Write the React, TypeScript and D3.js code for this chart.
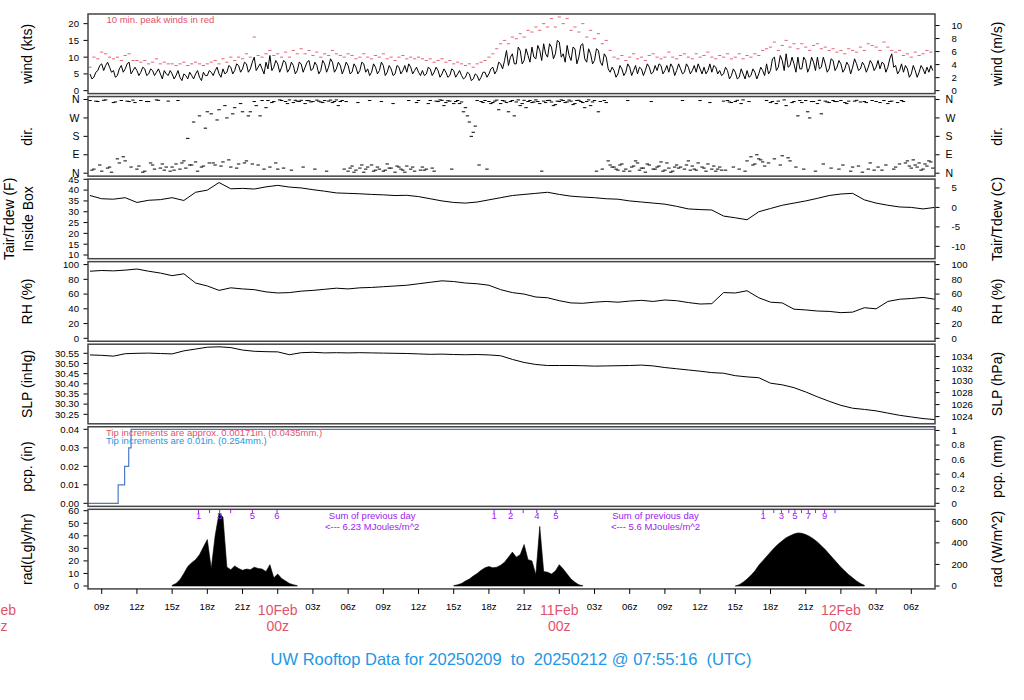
import * as d3 from "d3";

// Hours are counted from 2025-02-09 00Z
const FONT = "'Liberation Sans', Arial, Helvetica, sans-serif";
const RED = "#DF536B";
const BLUE = "#2297E6";
const PURPLE = "#A020F0";

// 20-minute samples starting at 08Z on 9 Feb
const sampleStartHour = 8;
const windKts = [
  5, 4, 6, 8, 7.5, 7, 6, 4.5, 7.5, 6.5, 8.5, 6,
  6, 5.5, 6.5, 5, 6, 5.5, 5, 6, 4.5,
  5, 4.5, 4, 5, 3.5, 4.5, 5, 4, 5.5, 4.5,
  5.5, 6, 5, 6.5, 5.5, 7, 6, 7.5, 6.5,
  8, 6.5, 10, 7, 6.5, 8.5, 10.5, 7, 8,
  7, 8.5, 6.5, 7.5, 6, 8, 7, 9, 6.5, 7.5, 6, 8, 7, 8.5, 6.5, 7.5,
  6.5, 7.5, 5.5, 7, 6, 8, 6.5, 5.5, 7, 6, 7.5, 5.5, 6.5, 5, 7, 6, 5.5, 7, 6, 5.5,
  6, 5, 6.5, 5.5, 6, 5, 5.5, 4.5, 6, 5, 4.5, 4, 5, 3.5, 4.5, 4,
  5.5, 5, 7, 6, 8,
  9, 7.5, 11, 8, 12, 9, 10.5, 13, 9.5, 12, 14, 10, 13, 11, 14.5,
  11, 13.5, 9, 12.5, 10, 14, 8.5, 11, 9, 12, 7.5, 10, 5.5,
  6, 5, 6.5, 5.5, 7, 6, 5, 6.5, 6, 7, 5.5, 6, 7.5, 6, 5.5, 7, 6, 6.5, 5.5, 7, 6, 5.5, 6.5, 7, 6, 5.5, 7, 6,
  5, 6, 4.5, 5.5, 4, 5, 6, 4.5, 5.5, 5, 6,
  8, 6, 10, 7, 9, 11, 7.5, 8, 10, 6.5, 9, 7, 8.5, 10, 7, 8, 6.5, 9,
  7, 8, 6.5, 7.5, 7, 8, 6.5, 7.5, 7, 8,
  7, 6.5, 8, 7, 11, 7.5, 6, 5.5, 6.5, 5, 6, 5.5, 6.5, 7, 7.5,
];
// the samples 10 minutes after each of the above
const windKtsMid = [
  3.5, 5.5, 7.5, 6, 8.5, 5.5, 4, 6.5, 5.5, 8, 5, 7,
  4.5, 7, 4.5, 6.5, 4.5, 6.5, 3.5, 5, 6,
  3.5, 6, 3, 4.5, 5.5, 3.5, 6, 3, 4.5, 6,
  4.5, 7, 4, 5, 7.5, 5, 8, 5.5, 8.5,
  5.5, 8.5, 6, 8, 5, 6.5, 6, 9, 5.5,
  9, 5.5, 8.5, 5, 8.5, 5.5, 8.5, 6, 8.5, 5, 9, 5.5, 9.5, 5.5, 8.5, 5,
  8.5, 5, 8, 5, 8.5, 5.5, 4.5, 8, 5, 8.5, 4.5, 7.5, 4.5, 7.5, 5, 7.5, 8, 5, 7, 4.5,
  4.5, 7, 4.5, 7, 4, 6.5, 4, 6.5, 4, 6, 3.5, 5.5, 3, 5, 3, 5.5,
  4, 6.5, 5, 8.5, 6.5,
  12, 10, 8, 13, 8, 12.5, 8.5, 10, 13.5, 9, 11, 14, 9.5, 15, 10,
  8.5, 10.5, 13, 8, 13.5, 9.5, 12.5, 8, 12.5, 8.5, 11, 6.5, 7,
  4, 7.5, 4.5, 8, 4.5, 7.5, 7, 4.5, 8, 5, 7.5, 8, 5, 7.5, 8, 4.5, 8, 5, 8, 5, 7.5, 8, 5, 5, 8, 7.5, 5, 4.5,
  7, 3.5, 6.5, 3.5, 6.5, 3.5, 4, 6.5, 3.5, 7, 4.5,
  5, 9.5, 6, 10.5, 6, 7, 10, 5.5, 6.5, 10, 5.5, 10, 6, 6.5, 10, 5.5, 9.5, 6,
  9, 5.5, 8.5, 5, 9.5, 6, 8.5, 5.5, 9, 6,
  9, 8.5, 5.5, 9.5, 7, 5, 8, 7.5, 4, 7.5, 4, 7.5, 5, 5.5, 6,
];
const gustKts = [
  7, 10, 9.5, 11.5, 11, 10, 9.5, 10, 9, 10.5, 11, 9,
  9, 8.5, 9, 8, 8.5, 9.5, 8, 8.5, 8,
  8, 7.5, 8, 8.5, 7.5, 8, 8.5, 8, 7.5, 8,
  8.5, 9, 8, 9.5, 8.5, 10, 9, 10, 9.5,
  11, 10, 16, 10.5, 10, 11, 12, 10.5, 11,
  10, 11.5, 10, 12, 11, 12.5, 11, 12, 10.5, 11.5, 10, 11, 10.5, 12, 11, 10.5,
  10, 11, 10.5, 9.5, 10, 11, 10, 9.5, 10.5, 10, 11, 9.5, 10, 9, 10, 10.5, 9.5, 10, 9.5, 10,
  9.5, 9, 9.5, 8.5, 9, 9.5, 8.5, 9, 8, 8.5, 8, 7.5, 8, 7, 8, 8.5,
  9, 10, 11, 12.5, 14,
  15, 14, 16, 15.5, 17, 16, 18, 17.5, 19, 18, 20, 19, 21.5, 19, 22,
  20, 21.5, 18, 19, 17.5, 20, 16, 18, 15.5, 17, 14, 15, 12,
  10, 9.5, 10.5, 9, 10, 11, 9.5, 10, 9, 10.5, 11, 10, 9.5, 10, 11.5, 10, 9.5, 10.5, 11, 10, 9.5, 11, 10, 10.5, 11.5, 10, 9.5, 10.5,
  10, 11, 9.5, 10, 11, 9.5, 10.5, 10, 11, 10.5, 12,
  12.5, 13, 14.5, 12, 13.5, 15, 13, 14, 12.5, 14, 13, 12, 13.5, 14, 12.5, 13, 12, 12.5,
  11.5, 12, 11, 12.5, 12, 11.5, 13, 12, 14, 13.5,
  13, 12, 14.5, 13, 12, 11.5, 12, 10.5, 11, 10, 11.5, 10.5, 11, 12, 11.5,
];
// wind direction (deg), same 20-min grid, and a second set 10 min later
const dirPrimary = [
  355, 20, 350, 10, 358, 30, 345,
  70, 355, 60, 350, 357,
  20, 355, 10, 350, 40, 358, 25, 15, 352,
  30, 45, 20, 60, 170, 40, 55, 280, 35, 300,
  290, 40, 310, 55, 270, 30, 320, 45, 300, 60,
  300, 350, 40, 355, 320, 30, 350, 20,
  355, 350, 358, 345, 352, 356, 340, 354, 350, 357, 348, 355, 352, 345, 358, 350,
  20, 10, 35, 15, 25, 5, 30, 40, 15, 20, 10, 45, 25, 5, 30, 15, 35, 20, 10, 355,
  30, 20, 355, 10, 350, 356, 345, 352, 340, 355, 348, 320, 250, 200, 355, 350,
  355, 350, 345, 357, 340, 352, 300, 355, 348, 330, 356, 350, 345, 358, 340, 352, 355, 348, 335, 350,
  355, 348, 352, 340, 356, 345, 350, 330, 355, 300, 20, 345, 40,
  30, 15, 45, 20, 10, 35, 50, 25, 5, 40, 20, 30, 55, 15, 25, 10, 40, 30, 20, 60, 35, 15, 355, 25, 45, 20, 10, 30,
  352, 355, 345, 350, 20, 358, 60, 80, 45, 70, 55,
  355, 345, 70, 352, 85, 330, 60, 350, 280, 345, 355, 270, 350, 340, 290, 352, 345, 355,
  350, 355, 345, 352, 30, 356, 348, 350, 20, 355,
  350, 345, 355, 340, 352, 30, 45, 350, 60, 25, 40, 50, 20, 35, 55,
];
const dirSecondary = [
  15, 352, 40, 356, 25, 5, 348,
  50, 80, 352, 30, 345,
  35, 5, 350, 50, 20, 356, 45, 30, 10,
  15, 355, 50, 25, 40, 250, 10, 30, 220, 50,
  50, 260, 35, 330, 65, 290, 25, 340, 50, 280,
  45, 330, 280, 20, 355, 345, 50, 358,
  25, 340, 15, 356, 350, 30, 355, 348, 20, 352, 345, 10, 357, 350, 330, 355,
  350, 25, 5, 345, 40, 20, 355, 10, 30, 350, 15, 25, 340, 35, 20, 5, 355, 30, 345, 15,
  15, 340, 25, 352, 358, 330, 354, 20, 350, 340, 300, 280, 180, 230, 40, 345,
  20, 340, 352, 310, 355, 345, 350, 280, 358, 340, 320, 355, 348, 350, 10, 345, 356, 330, 352, 358,
  345, 357, 335, 355, 350, 320, 358, 348, 10, 350, 355, 60, 30,
  20, 40, 10, 355, 30, 60, 15, 25, 45, 350, 20, 35, 10, 50, 5, 30, 25, 355, 40, 15, 20, 50, 30, 10, 345, 35, 20, 15,
  15, 348, 30, 356, 340, 10, 350, 40, 90, 65, 35,
  50, 350, 340, 40, 358, 75, 345, 30, 355, 20, 300, 350, 10, 356, 45, 348, 25, 350,
  20, 40, 340, 10, 352, 35, 5, 345, 50, 15,
  30, 15, 40, 350, 20, 345, 355, 50, 35, 65, 30, 15, 45, 60, 25,
];

// hourly samples starting at 08Z on 9 Feb
const hourlyStartHour = 8;
const tempF = [
  37.5, 36, 35.8, 36.5, 34.3, 35.3, 35.6, 36.5, 35.2, 39,
  40, 43.5, 40.6, 40.8, 40.5, 41.5, 42.2, 41.4, 41, 40.2,
  39.5, 38.7, 38.5, 38.3, 38, 37.8, 37.5, 37.6, 37, 36,
  35, 34.3, 34, 34.5, 35.5, 36.5, 37.5, 38, 38.5, 39,
  38, 37.2, 36.8, 36.5, 36, 35.8, 35, 34.5, 34, 33.5,
  32.5, 31.3, 31, 30.8, 28, 27.2, 26.3, 30, 31.5, 33,
  34, 35, 36.2, 37.5, 38.2, 38.5, 35.5, 34, 33, 32.2,
  32, 31.3, 32,
];
const rhPct = [
  91, 92, 91.5, 92.5, 94, 91, 88.5, 85, 87.5, 75,
  71, 65, 68.5, 67, 66, 63, 61.5, 62, 64, 65,
  66.5, 68, 67, 68.5, 69, 70, 71, 72, 74, 76,
  78, 77, 75, 74, 72, 66, 62, 60, 56, 55,
  51, 48, 47.5, 49, 50, 49, 50.5, 51.5, 50, 52,
  51, 48.5, 46.5, 47, 62, 61.5, 64.5, 55, 49, 48,
  39.5, 38.5, 37, 36.5, 34.8, 35.5, 41.5, 40, 50, 53,
  54, 55.5, 53,
];
const slpInHg = [
  30.542, 30.54, 30.536, 30.548, 30.55, 30.551, 30.549, 30.547, 30.562, 30.571,
  30.58, 30.582, 30.578, 30.566, 30.56, 30.558, 30.557, 30.543, 30.553, 30.555,
  30.552, 30.553, 30.552, 30.553, 30.552, 30.551, 30.55, 30.549, 30.547, 30.545,
  30.546, 30.544, 30.543, 30.544, 30.542, 30.538, 30.52, 30.505, 30.495, 30.49,
  30.49, 30.49, 30.489, 30.487, 30.488, 30.489, 30.49, 30.492, 30.488, 30.48,
  30.474, 30.468, 30.462, 30.455, 30.452, 30.44, 30.434, 30.43, 30.403, 30.395,
  30.381, 30.36, 30.336, 30.314, 30.294, 30.28, 30.274, 30.267, 30.256, 30.245,
  30.237, 30.229, 30.224,
];

// tipping-bucket accumulation
const pcpHours = [7.83, 10.4, 10.95, 11.3, 11.5, 80.02];
const pcpInches = [0, 0.01, 0.02, 0.03, 0.04, 0.04];

// solar radiation (Ly/hr), 20-min samples for each daylight period
const radStartHours = [15, 39, 63];
const radDay1 = [
  0.5, 2, 5, 10, 15.5, 18.5, 21, 25, 31, 37, 14, 40, 58, 55, 15, 13, 16, 14,
  12.5, 13.5, 13, 15, 14, 13.5, 11.5, 17, 6.5, 9.5, 6, 4, 2, 1, 0.3,
];
const radDay2 = [
  0.3, 1, 2, 4, 5.5, 8, 10, 12.5, 14.5, 15.5, 14.5, 15, 16.5, 19, 23, 27, 23,
  25, 33, 21, 20, 9, 47.5, 11.5, 11, 9.5, 12, 17, 13.5, 9.5, 5.5, 3, 1, 0.2,
];
const radDay3 = [
  0, 1, 3, 5.5, 8.5, 12, 16.5, 20, 23.5, 27, 30.5, 33.5, 36, 38.5, 40, 41.5,
  42.3, 42, 41, 39.5, 37.5, 35, 32, 29, 25.5, 22, 18.5, 15, 12, 9, 6.5, 4, 2, 0.5,
];
const radDays = [radDay1, radDay2, radDay3];
// hours at which the daily sum passed 1, 2, 3 ... MJ/m^2
const energyMarkHours = [
  [17.25, 18.19, 19.05, 19.99, 21.84, 23.94],
  [42.44, 43.86, 44.92, 46.08, 47.71],
  [65.37, 66.28, 66.93, 67.56, 68.08, 68.64, 69.22, 69.84, 70.61, 71.5],
];
const dailySumLabels = ["6.23", "5.6"];
const dailySumHours = [32.05, 56.2];

const axisHours = d3.range(9, 80, 3);
const dateLabels = ["09Feb", "10Feb", "11Feb", "12Feb"];
const dateHours = [0, 24, 48, 72];

const X0 = 88;
const X1 = 935;
const PANEL_TOP = 14;
const PANEL_H = 79.6;
const PANEL_STEP = 82.55;

type Tick = { v: number; label: string };
type PanelCfg = {
  id: string;
  domain: [number, number];
  left: Tick[];
  right: Tick[];
  titleL: string[];
  titleR: string;
};

const num = (vals: number[], f: (v: number) => string = String): Tick[] =>
  vals.map((v) => ({ v, label: f(v) }));

const compass: Tick[] = [
  { v: 0, label: "N" },
  { v: 90, label: "E" },
  { v: 180, label: "S" },
  { v: 270, label: "W" },
  { v: 360, label: "N" },
];

const panels: PanelCfg[] = [
  {
    id: "wind",
    domain: [-0.88, 22.88],
    left: num([0, 5, 10, 15, 20]),
    right: [0, 2, 4, 6, 8, 10].map((m) => ({ v: m * 1.94384, label: String(m) })),
    titleL: ["wind (kts)"],
    titleR: "wind (m/s)",
  },
  { id: "dir", domain: [-14.4, 374.4], left: compass, right: compass, titleL: ["dir."], titleR: "dir." },
  {
    id: "temp",
    domain: [8.29, 45.09],
    left: num([10, 15, 20, 25, 30, 35, 40, 45]),
    right: [-10, -5, 0, 5].map((c) => ({ v: c * 1.8 + 32, label: String(c) })),
    titleL: ["Tair/Tdew (F)", "Inside Box"],
    titleR: "Tair/Tdew (C)",
  },
  {
    id: "rh",
    domain: [-4, 104],
    left: num([0, 20, 40, 60, 80, 100]),
    right: num([0, 20, 40, 60, 80, 100]),
    titleL: ["RH (%)"],
    titleR: "RH (%)",
  },
  {
    id: "slp",
    domain: [30.2033, 30.5948],
    left: num([30.25, 30.3, 30.35, 30.4, 30.45, 30.5, 30.55], (v) => v.toFixed(2)),
    right: [1024, 1026, 1028, 1030, 1032, 1034].map((h) => ({ v: h / 33.8639, label: String(h) })),
    titleL: ["SLP (inHg)"],
    titleR: "SLP (hPa)",
  },
  {
    id: "pcp",
    domain: [-0.00165, 0.04138],
    left: num([0, 0.01, 0.02, 0.03, 0.04], (v) => v.toFixed(2)),
    right: [0, 0.2, 0.4, 0.6, 0.8, 1].map((m) => ({ v: m / 25.4, label: String(m) })),
    titleL: ["pcp. (in)"],
    titleR: "pcp. (mm)",
  },
  {
    id: "rad",
    domain: [-2.31, 61.12],
    left: num([0, 10, 20, 30, 40, 50, 60]),
    right: [0, 200, 400, 600].map((w) => ({ v: w / 11.63, label: String(w) })),
    titleL: ["rad(Lgly/hr)"],
    titleR: "rad (W/m^2)",
  },
];

const x = d3.scaleLinear().domain([7.83, 80.02]).range([X0, X1]);
const top = (i: number) => PANEL_TOP + i * PANEL_STEP;
const yScale = (i: number) =>
  d3.scaleLinear().domain(panels[i].domain).range([top(i) + PANEL_H, top(i)]);

const sampleHour = (i: number) => sampleStartHour + i / 3;
const hourlyHour = (i: number) => hourlyStartHour + i;

export default function App() {
  const yW = yScale(0);
  const yD = yScale(1);
  const yT = yScale(2);
  const yR = yScale(3);
  const yS = yScale(4);
  const yP = yScale(5);
  const yRad = yScale(6);

  // interleave the two wind sample sets in time order
  const windSeries: [number, number][] = windKts.flatMap((w, i) => {
    const pts: [number, number][] = [[sampleHour(i), w]];
    if (i < windKtsMid.length) pts.push([sampleHour(i) + 1 / 6, windKtsMid[i]]);
    return pts;
  });
  const windPath = d3
    .line<[number, number]>()
    .x((d) => x(d[0]))
    .y((d) => yW(d[1]))(windSeries);

  const hourlyLine = (y: d3.ScaleLinear<number, number>) =>
    d3
      .line<number>()
      .x((_, i) => x(hourlyHour(i)))
      .y((d) => y(d));

  const pcpPath = d3
    .line<number>()
    .x((_, i) => x(pcpHours[i]))
    .y((d) => yP(d))
    .curve(d3.curveStepAfter)(pcpInches);

  const radPaths = radDays.map((day, k) =>
    d3
      .area<number>()
      .x((_, i) => x(radStartHours[k] + i / 3))
      .y0(yRad(0))
      .y1((d) => yRad(d))(day)
  );

  // purple cumulative-energy marks; labels dropped where they would crowd
  const energyMarks = energyMarkHours.flatMap((hours) => {
    let lastX = -Infinity;
    return hours.map((h, k) => {
      const px = x(h);
      const show = px - lastX >= 12.8;
      if (show) lastX = px;
      return { px, label: String(k + 1), show };
    });
  });

  const radTop = top(6);

  return (
    <svg
      width={1024}
      height={700}
      style={{ position: "absolute", left: 0, top: 0, background: "#fff" }}
      fontFamily={FONT}
    >
      <defs>
        {panels.map((p, i) => (
          <clipPath id={`clip-${p.id}`} key={p.id}>
            <rect x={X0} y={top(i)} width={X1 - X0} height={PANEL_H} />
          </clipPath>
        ))}
      </defs>

      {/* axes and titles */}
      {panels.map((p, i) => {
        const y = yScale(i);
        const mid = top(i) + PANEL_H / 2;
        const isDir = p.id === "dir";
        return (
          <g key={p.id} fontSize={9.6} fill="#000">
            {p.left.map((t, k) => (
              <g key={`l${k}`}>
                <line x1={X0 - 4.5} x2={X0} y1={y(t.v)} y2={y(t.v)} stroke="#000" />
                <text x={isDir ? 79.5 : 79} y={y(t.v)} dy="0.35em" textAnchor="end" fontSize={isDir ? 10.5 : 9.6}>
                  {t.label}
                </text>
              </g>
            ))}
            {p.right.map((t, k) => (
              <g key={`r${k}`}>
                <line x1={X1} x2={X1 + 4.5} y1={y(t.v)} y2={y(t.v)} stroke="#000" />
                <text x={isDir ? 945.5 : 951.5} y={y(t.v)} dy="0.35em" textAnchor="start" fontSize={isDir ? 10.5 : 9.6}>
                  {t.label}
                </text>
              </g>
            ))}
            {p.titleL.length === 1 ? (
              <text transform={`translate(32,${mid}) rotate(-90)`} textAnchor="middle" fontSize={14}>
                {p.titleL[0]}
              </text>
            ) : (
              <>
                <text transform={`translate(14,${mid}) rotate(-90)`} textAnchor="middle" fontSize={14}>
                  {p.titleL[0]}
                </text>
                <text transform={`translate(32.5,${mid}) rotate(-90)`} textAnchor="middle" fontSize={14}>
                  {p.titleL[1]}
                </text>
              </>
            )}
            <text transform={`translate(1001.5,${mid}) rotate(-90)`} textAnchor="middle" fontSize={14}>
              {p.titleR}
            </text>
          </g>
        );
      })}

      {/* wind */}
      <g clipPath="url(#clip-wind)">
        {gustKts.map((g, i) => (
          <line
            key={i}
            x1={x(sampleHour(i)) - 1.6}
            x2={x(sampleHour(i)) + 1.6}
            y1={yW(g)}
            y2={yW(g)}
            stroke={RED}
            strokeWidth={0.9}
          />
        ))}
        <path d={windPath ?? undefined} fill="none" stroke="#000" strokeWidth={1} />
      </g>
      <text x={106.5} y={22.5} fontSize={9.5} fill={RED}>
        10 min. peak winds in red
      </text>

      {/* direction */}
      <g clipPath="url(#clip-dir)" stroke="#000" strokeWidth={1}>
        {dirPrimary.map((d, i) => (
          <line key={`a${i}`} x1={x(sampleHour(i)) - 1.7} x2={x(sampleHour(i)) + 1.7} y1={yD(d)} y2={yD(d)} />
        ))}
        {dirSecondary.map((d, i) => (
          <line
            key={`b${i}`}
            x1={x(sampleHour(i) + 1 / 6) - 1.7}
            x2={x(sampleHour(i) + 1 / 6) + 1.7}
            y1={yD(d)}
            y2={yD(d)}
          />
        ))}
      </g>

      {/* temperature, RH, pressure */}
      <g fill="none" stroke="#000" strokeWidth={1}>
        <path clipPath="url(#clip-temp)" d={hourlyLine(yT)(tempF) ?? undefined} />
        <path clipPath="url(#clip-rh)" d={hourlyLine(yR)(rhPct) ?? undefined} />
        <path clipPath="url(#clip-slp)" d={hourlyLine(yS)(slpInHg) ?? undefined} />
      </g>

      {/* precipitation */}
      <path clipPath="url(#clip-pcp)" d={pcpPath ?? undefined} fill="none" stroke="#4b7bc4" strokeWidth={1.2} />
      <text x={106} y={435.7} fontSize={9.5} fill={RED}>
        Tip increments are approx. 0.00171in. (0.0435mm.)
      </text>
      <text x={106} y={444.2} fontSize={9.5} fill={BLUE}>
        Tip increments are 0.01in. (0.254mm.)
      </text>

      {/* radiation */}
      <g clipPath="url(#clip-rad)">
        {radPaths.map((d, k) => (
          <path key={k} d={d ?? undefined} fill="#000" stroke="#000" strokeWidth={0.6} />
        ))}
      </g>
      <g fill={PURPLE} fontSize={9.5}>
        {energyMarks.map((m, k) => (
          <g key={k}>
            <line x1={m.px} x2={m.px} y1={radTop + 0.5} y2={radTop + 3.8} stroke={PURPLE} strokeWidth={1} />
            {m.show && (
              <text x={m.px} y={radTop + 9.2} textAnchor="middle">
                {m.label}
              </text>
            )}
          </g>
        ))}
        {dailySumHours.map((h, k) => (
          <g key={`s${k}`}>
            <text x={x(h)} y={radTop + 9.2} textAnchor="middle">
              Sum of previous day
            </text>
            <text x={x(h)} y={radTop + 20.2} textAnchor="middle">
              {`<--- ${dailySumLabels[k]} MJoules/m^2`}
            </text>
          </g>
        ))}
      </g>

      {/* panel frames */}
      {panels.map((p, i) => (
        <rect
          key={`f${p.id}`}
          x={X0}
          y={top(i)}
          width={X1 - X0}
          height={PANEL_H}
          fill="none"
          stroke="#444"
          strokeWidth={1.5}
        />
      ))}

      {/* time axis */}
      <g fontSize={9.6}>
        {axisHours.map((h) => (
          <g key={h}>
            <line x1={x(h)} x2={x(h)} y1={top(6) + PANEL_H} y2={top(6) + PANEL_H + 5} stroke="#000" />
            {h % 24 !== 0 && (
              <text x={x(h)} y={609.5} textAnchor="middle">
                {`${String(h % 24).padStart(2, "0")}z`}
              </text>
            )}
          </g>
        ))}
        {dateHours.map((h, k) => (
          <g key={`d${k}`} fill={RED} fontSize={14}>
            <text x={x(h)} y={615} textAnchor="middle">
              {dateLabels[k]}
            </text>
            <text x={x(h)} y={631} textAnchor="middle">
              00z
            </text>
          </g>
        ))}
      </g>

      <text x={511} y={665} textAnchor="middle" fontSize={16.5} fill={BLUE} style={{ whiteSpace: "pre" }}>
        {"UW Rooftop Data for 20250209  to  20250212 @ 07:55:16  (UTC)"}
      </text>
    </svg>
  );
}
